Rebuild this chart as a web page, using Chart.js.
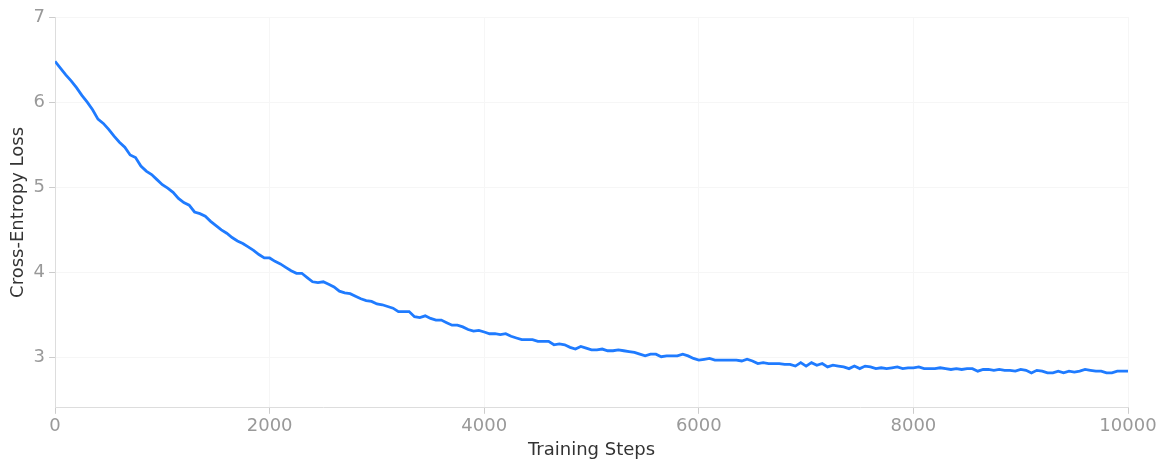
<!DOCTYPE html>
<html>
<head>
<meta charset="utf-8">
<script src="https://cdn.jsdelivr.net/npm/chart.js@4/dist/chart.umd.min.js"></script>
<style>
  html, body { margin: 0; padding: 0; background: #fff; }
  #wrap { width: 1166px; height: 468px; }
</style>
</head>
<body>
<div id="wrap"><canvas id="lossChart"></canvas></div>
<script>
// training steps, every 50
const steps = [
  0, 50, 100, 150, 200, 250, 300, 350, 400, 450, 500, 550, 600, 650, 700, 750, 800, 850, 900, 950,
  1000, 1050, 1100, 1150, 1200, 1250, 1300, 1350, 1400, 1450, 1500, 1550, 1600, 1650, 1700, 1750, 1800, 1850, 1900, 1950,
  2000, 2050, 2100, 2150, 2200, 2250, 2300, 2350, 2400, 2450, 2500, 2550, 2600, 2650, 2700, 2750, 2800, 2850, 2900, 2950,
  3000, 3050, 3100, 3150, 3200, 3250, 3300, 3350, 3400, 3450, 3500, 3550, 3600, 3650, 3700, 3750, 3800, 3850, 3900, 3950,
  4000, 4050, 4100, 4150, 4200, 4250, 4300, 4350, 4400, 4450, 4500, 4550, 4600, 4650, 4700, 4750, 4800, 4850, 4900, 4950,
  5000, 5050, 5100, 5150, 5200, 5250, 5300, 5350, 5400, 5450, 5500, 5550, 5600, 5650, 5700, 5750, 5800, 5850, 5900, 5950,
  6000, 6050, 6100, 6150, 6200, 6250, 6300, 6350, 6400, 6450, 6500, 6550, 6600, 6650, 6700, 6750, 6800, 6850, 6900, 6950,
  7000, 7050, 7100, 7150, 7200, 7250, 7300, 7350, 7400, 7450, 7500, 7550, 7600, 7650, 7700, 7750, 7800, 7850, 7900, 7950,
  8000, 8050, 8100, 8150, 8200, 8250, 8300, 8350, 8400, 8450, 8500, 8550, 8600, 8650, 8700, 8750, 8800, 8850, 8900, 8950,
  9000, 9050, 9100, 9150, 9200, 9250, 9300, 9350, 9400, 9450, 9500, 9550, 9600, 9650, 9700, 9750, 9800, 9850, 9900, 9950,
  10000
];

// cross-entropy loss
const loss = [
  6.48, 6.40, 6.32, 6.25, 6.17, 6.08, 6.00, 5.91, 5.80, 5.75, 5.68, 5.60, 5.53, 5.47, 5.38, 5.35, 5.25, 5.19, 5.15, 5.09,
  5.03, 4.99, 4.94, 4.87, 4.82, 4.79, 4.71, 4.69, 4.66, 4.60, 4.55, 4.50, 4.46, 4.41, 4.37, 4.34, 4.30, 4.26, 4.21, 4.17,
  4.17, 4.13, 4.10, 4.06, 4.02, 3.99, 3.99, 3.94, 3.89, 3.88, 3.89, 3.86, 3.83, 3.78, 3.76, 3.75, 3.72, 3.69, 3.67, 3.66,
  3.63, 3.62, 3.60, 3.58, 3.54, 3.54, 3.54, 3.48, 3.47, 3.49, 3.46, 3.44, 3.44, 3.41, 3.38, 3.38, 3.36, 3.33, 3.31, 3.32,
  3.30, 3.28, 3.28, 3.27, 3.28, 3.25, 3.23, 3.21, 3.21, 3.21, 3.19, 3.19, 3.19, 3.15, 3.16, 3.15, 3.12, 3.10, 3.13, 3.11,
  3.09, 3.09, 3.10, 3.08, 3.08, 3.09, 3.08, 3.07, 3.06, 3.04, 3.02, 3.04, 3.04, 3.01, 3.02, 3.02, 3.02, 3.04, 3.02, 2.99,
  2.97, 2.98, 2.99, 2.97, 2.97, 2.97, 2.97, 2.97, 2.96, 2.98, 2.96, 2.93, 2.94, 2.93, 2.93, 2.93, 2.92, 2.92, 2.90, 2.94,
  2.90, 2.94, 2.91, 2.93, 2.89, 2.91, 2.90, 2.89, 2.87, 2.90, 2.87, 2.90, 2.89, 2.87, 2.88, 2.87, 2.88, 2.89, 2.87, 2.88,
  2.88, 2.89, 2.87, 2.87, 2.87, 2.88, 2.87, 2.86, 2.87, 2.86, 2.87, 2.87, 2.84, 2.86, 2.86, 2.85, 2.86, 2.85, 2.85, 2.84,
  2.86, 2.85, 2.82, 2.85, 2.84, 2.82, 2.82, 2.84, 2.82, 2.84, 2.83, 2.84, 2.86, 2.85, 2.84, 2.84, 2.82, 2.82, 2.84, 2.84,
  2.84
];

const xTicks = [0, 2000, 4000, 6000, 8000, 10000];
const yTicks = [3, 4, 5, 6, 7];

Chart.defaults.font.family = '"DejaVu Sans", sans-serif';

const ctx = document.getElementById('lossChart').getContext('2d');
const lossChart = new Chart(ctx, {
  type: 'line',
  data: {
    datasets: [{
      label: 'Loss',
      data: steps.map((s, i) => ({ x: s, y: loss[i] })),
      borderColor: '#1f7bff',
      borderWidth: 2.8,
      fill: false,
      tension: 0,
      pointRadius: 0
    }]
  },
  options: {
    responsive: true,
    maintainAspectRatio: false,
    animation: false,
    layout: { padding: { top: 17, right: 38, left: 4, bottom: 3 } },
    plugins: {
      legend: { display: false },
      tooltip: { enabled: false }
    },
    scales: {
      x: {
        type: 'linear',
        min: 0,
        max: 10000,
        afterBuildTicks: axis => { axis.ticks = xTicks.map(v => ({ value: v })); },
        ticks: { color: '#999', font: { size: 18 }, padding: 2, maxRotation: 0, callback: v => String(v) },
        grid: { color: '#f6f6f6', tickColor: '#ccc', tickLength: 6 },
        border: { color: '#ddd' },
        title: { display: true, text: 'Training Steps', color: '#333', font: { size: 18 }, padding: { top: 0 } }
      },
      y: {
        min: 2.41,
        max: 7,
        afterBuildTicks: axis => { axis.ticks = yTicks.map(v => ({ value: v })); },
        ticks: { color: '#999', font: { size: 18 }, padding: 4, callback: v => String(v) },
        grid: { color: '#f6f6f6', tickColor: '#ccc', tickLength: 6 },
        border: { color: '#ddd' },
        title: { display: true, text: 'Cross-Entropy Loss', color: '#333', font: { size: 18 }, padding: { bottom: 0 } }
      }
    }
  }
});
</script>
</body>
</html>
